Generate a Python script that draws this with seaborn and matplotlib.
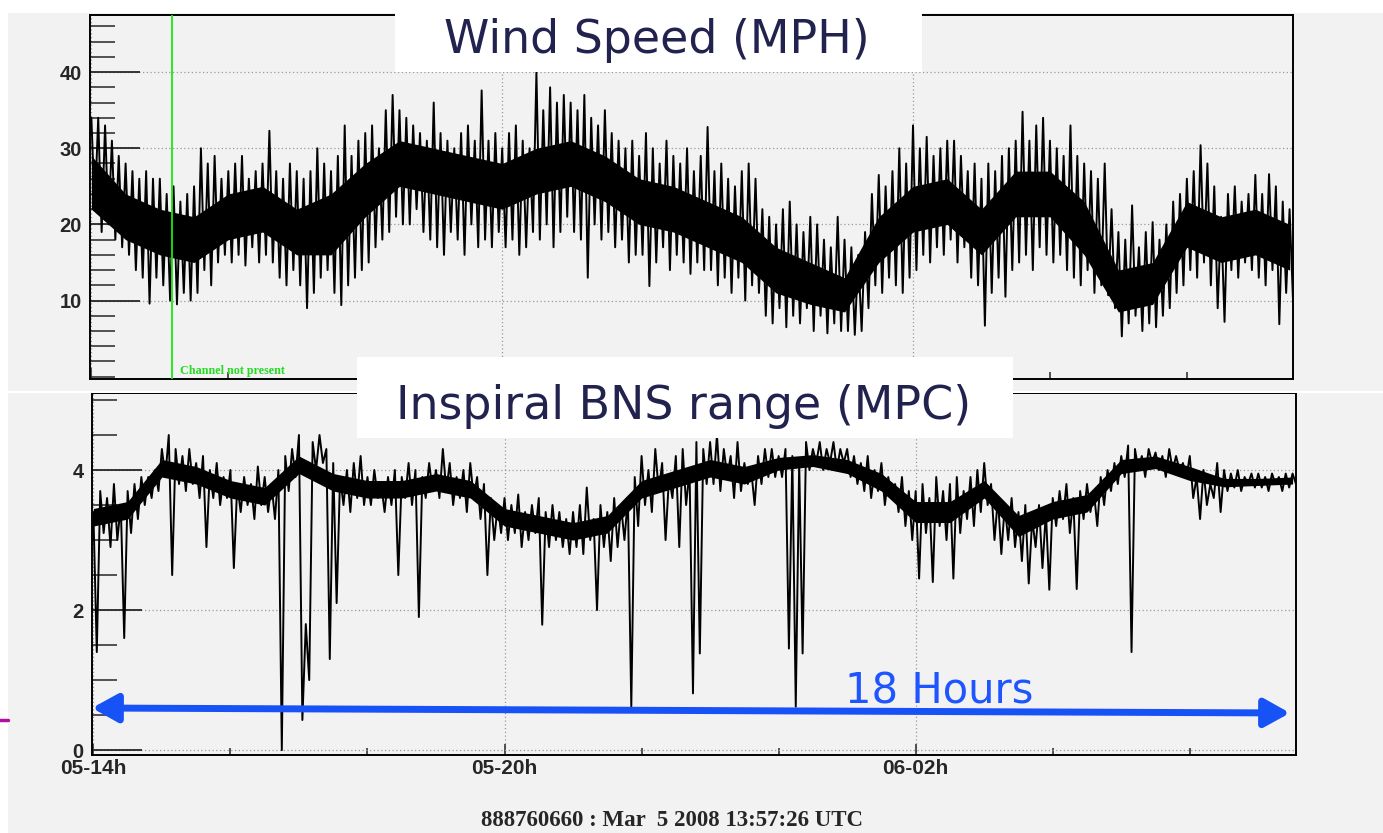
import numpy as np
import pandas as pd
import matplotlib
matplotlib.use("Agg")
import matplotlib.pyplot as plt
import seaborn as sns
from matplotlib.ticker import FixedLocator, MultipleLocator
from matplotlib.patches import Rectangle
from matplotlib.lines import Line2D

# --- data: upper / lower trace value every 0.1 h from 05-14h ---
wind_hi = [34, 34, 33, 31, 29, 28, 27, 26, 27, 26,
           26, 24, 25, 23, 24, 25, 30, 28, 29, 26,
           27, 28, 29, 26, 27, 28, 32.3, 27, 26, 28,
           27, 26, 27, 30, 28, 27, 29, 33, 29, 31,
           32, 33, 30, 35, 37, 35, 34, 33, 32, 31,
           36, 32, 31, 30, 32, 33, 31, 37.6, 31, 32,
           30, 32, 33, 31, 30, 40, 35, 38, 36, 37,
           36, 35, 37, 34, 33, 35, 32, 31, 30, 31,
           29, 32, 30, 28, 31, 29, 28, 30, 27, 29,
           32.8, 27, 28, 26, 25, 27, 28, 26, 22, 21,
           20, 22, 23, 20, 19, 21, 20, 18, 17, 21,
           18, 17, 16, 19, 24, 26.5, 25, 27, 30, 28,
           33, 30, 31.5, 29, 30, 31, 31, 29, 27, 28,
           26, 28, 27, 29, 30, 31, 34.8, 31, 33, 34,
           31, 30, 29, 33, 29, 28, 27, 26, 28, 22,
           19, 18, 22.5, 17, 19, 20.3, 18, 20, 23, 24,
           26, 27, 30.4, 28, 25, 21, 24, 25, 23, 24,
           26.5, 24, 26.6, 25, 23, 22]
wind_lo = [22, 19, 20, 18, 17, 16, 14, 13, 9.6, 13,
           12, 10, 9.5, 11, 10, 11, 14, 12, 15, 16,
           15, 16, 14.6, 17, 15, 16, 15, 13, 12, 14,
           12, 9, 11, 13, 14, 11, 9.4, 12, 13, 14,
           15, 17, 18, 19, 21, 20, 20, 22, 19, 18,
           17, 16, 19, 18, 16, 20, 17, 18, 17, 19,
           17, 18, 16, 17, 19, 18, 20, 17, 19, 21,
           19, 18, 13, 20, 18, 19, 17, 18, 15, 16,
           16, 11.9, 15, 17, 14, 16, 15, 13.5, 15, 14,
           14, 12, 13, 11, 13, 10, 12, 11, 8, 7,
           9, 6.5, 8, 7, 9, 6, 8, 5.7, 7, 6,
           6, 5.5, 6, 9, 12, 11, 13, 12, 11, 13,
           14, 16, 15, 17, 16, 18, 15, 17, 13, 12,
           6.7, 11, 13, 10.5, 14, 15, 16, 14, 17, 16,
           15, 16, 14, 13, 12, 14, 11, 12, 10.7, 9,
           5.3, 7, 8, 6, 7, 6.5, 8, 9, 11, 12,
           14, 13, 15, 12, 9, 7.2, 14, 13, 15, 14,
           13, 12, 14, 6.9, 11, 10]
# solid core of the wind trace, every 0.5 h
wind_core_hi = [29, 24, 22, 21, 24, 25, 22, 24, 28, 31, 30, 29,
                28, 30, 31, 29, 26, 25, 23, 21, 17, 15, 13, 21,
                25, 26, 22, 27, 27, 23, 14, 15, 23, 21, 22, 20]
wind_core_lo = [22, 18, 16, 15, 18, 19, 16, 16, 21, 25, 24, 23,
                22, 24, 25, 23, 20, 19, 17, 15, 11, 9.5, 8.5, 15,
                19, 20, 16, 21, 21, 16, 8.5, 9.5, 17, 15, 16, 14]

bns_hi = [3.4, 3.7, 3.6, 3.8, 3.5, 3.7, 3.8, 3.9, 3.9, 4.0,
          4.3, 4.5, 4.3, 4.2, 4.3, 4.1, 4.2, 4.0, 4.1, 3.9,
          4.0, 3.8, 3.9, 3.8, 4.05, 3.9, 3.8, 4.0, 4.2, 4.3,
          4.5, 1.8, 4.4, 4.5, 4.3, 4.1, 3.9, 4.0, 4.1, 4.2,
          3.9, 4.0, 3.8, 3.9, 4.0, 3.9, 4.1, 4.0, 3.9, 4.1,
          4.0, 4.3, 4.1, 3.9, 4.0, 4.1, 3.9, 3.8, 3.6, 3.5,
          3.6, 3.5, 3.65, 3.4, 3.5, 3.6, 3.4, 3.5, 3.4, 3.3,
          3.4, 3.5, 3.75, 3.3, 3.5, 3.4, 3.6, 3.5, 3.6, 3.9,
          4.2, 4.0, 4.3, 4.1, 3.9, 4.2, 4.3, 4.0, 4.4, 4.3,
          4.4, 4.5, 4.3, 4.2, 4.4, 4.1, 4.0, 4.2, 4.3, 4.3,
          4.2, 4.3, 4.2, 4.1, 4.4, 4.3, 4.4, 4.3, 4.4, 4.3,
          4.3, 4.2, 4.1, 4.2, 4.0, 4.1, 3.9, 3.8, 3.9, 3.7,
          3.7, 3.8, 3.6, 3.9, 3.7, 3.8, 3.9, 3.7, 3.9, 4.0,
          4.1, 3.8, 3.6, 3.5, 3.6, 3.4, 3.5, 3.3, 3.5, 3.4,
          3.6, 3.7, 3.8, 3.6, 3.7, 3.8, 3.7, 3.9, 4.0, 4.1,
          4.2, 4.35, 4.3, 4.2, 4.3, 4.25, 4.2, 4.3, 4.2, 4.1,
          4.2, 3.9, 4.0, 3.8, 4.1, 4.0, 3.95, 4.0, 3.9, 3.95,
          3.95, 3.9, 3.95, 3.9, 3.95, 3.95]
bns_lo = [1.4, 3.1, 2.9, 3.0, 1.6, 3.1, 3.3, 3.5, 3.6, 3.7,
          3.9, 2.5, 3.8, 3.7, 3.8, 3.6, 2.9, 3.6, 3.5, 3.6,
          2.6, 3.4, 3.5, 3.3, 3.5, 3.4, 3.3, 0.0, 3.7, 3.9,
          0.43, 1.0, 4.0, 4.1, 1.3, 2.1, 3.5, 3.4, 3.6, 3.5,
          3.5, 3.6, 3.4, 3.5, 2.5, 3.6, 3.5, 1.9, 3.6, 3.7,
          3.6, 3.7, 3.5, 3.6, 3.4, 3.6, 3.3, 2.5, 3.0, 3.1,
          3.0, 3.1, 2.9, 3.0, 3.1, 1.79, 2.9, 3.0, 2.9, 2.8,
          2.9, 2.8, 3.0, 2.0, 2.9, 2.7, 2.9, 3.0, 0.62, 3.2,
          3.5, 3.4, 3.7, 3.0, 3.6, 2.9, 3.5, 0.81, 1.38, 3.8,
          3.8, 3.7, 3.9, 3.6, 3.7, 3.8, 3.5, 3.8, 3.9, 3.9,
          3.9, 1.45, 0.62, 1.38, 4.0, 4.1, 4.0, 4.1, 4.0, 4.1,
          3.9, 3.8, 3.7, 3.6, 3.7, 3.5, 3.6, 3.4, 3.2, 3.0,
          2.45, 3.1, 2.4, 3.2, 3.0, 2.45, 3.1, 3.3, 3.2, 3.4,
          3.5, 3.0, 2.8, 3.0, 2.9, 2.7, 2.38, 2.9, 2.6, 2.29,
          3.2, 3.3, 3.1, 2.3, 3.3, 3.4, 3.2, 3.5, 3.7, 3.8,
          3.9, 1.4, 4.0, 3.9, 4.1, 4.0, 3.9, 4.0, 4.0, 3.9,
          3.6, 3.3, 3.5, 3.6, 3.4, 3.7, 3.75, 3.7, 3.8, 3.75,
          3.75, 3.7, 3.8, 3.7, 3.75, 3.8]
# solid core of the range trace, every 0.5 h
bns_core_hi = [3.45, 3.55, 4.15, 4.05, 3.85, 3.75, 4.2, 3.95, 3.85, 3.85, 3.95, 3.85,
               3.45, 3.35, 3.25, 3.35, 3.85, 4.0, 4.15, 4.05, 4.18, 4.22, 4.15, 3.95,
               3.55, 3.55, 3.85, 3.35, 3.55, 3.65, 4.15, 4.2, 4.05, 3.88, 3.88, 3.9]
bns_core_lo = [3.2, 3.3, 3.9, 3.8, 3.6, 3.5, 3.95, 3.7, 3.6, 3.6, 3.7, 3.6,
               3.2, 3.1, 3.0, 3.1, 3.6, 3.75, 3.9, 3.8, 4.0, 4.05, 3.95, 3.7,
               3.25, 3.25, 3.6, 3.05, 3.3, 3.4, 3.95, 4.02, 3.85, 3.76, 3.78, 3.8]

x_ticks = [0, 6, 12]
x_labels = ["05-14h", "05-20h", "06-02h"]
wind_yticks = [10, 20, 30, 40]
bns_yticks = [0, 2, 4]
channel_off_h = 1.18

W, H = 1383, 833
BG = "#f2f2f2"


def zigzag(hi, lo, step=0.1):
    # alternate upper and lower reading so the trace looks like the dense raw data
    t = np.arange(len(hi)) * step
    x = np.column_stack([t, t + step / 2]).ravel()
    y = np.column_stack([hi, lo]).ravel()
    return pd.DataFrame({"hours": x, "value": y})


def draw_trace(ax, hi, lo, core_hi, core_lo):
    tc = np.arange(len(core_hi)) * 0.5
    ax.fill_between(tc, core_lo, core_hi, color="black", linewidth=0, zorder=2)
    sns.lineplot(data=zigzag(hi, lo), x="hours", y="value", ax=ax,
                 color="black", linewidth=1.4, estimator=None, zorder=2)


def style_axis(ax, ylim, yticks, yminor):
    ax.set_facecolor(BG)
    ax.set_xlim(-0.02, 17.55)
    ax.set_ylim(*ylim)
    ax.yaxis.set_major_locator(FixedLocator(yticks))
    ax.yaxis.set_minor_locator(MultipleLocator(yminor))
    ax.xaxis.set_major_locator(FixedLocator(x_ticks))
    ax.xaxis.set_minor_locator(MultipleLocator(2))
    ax.tick_params(axis="y", which="major", direction="in", length=36, width=1.3,
                   labelsize=14.5, pad=6, left=True, right=False)
    ax.tick_params(axis="y", which="minor", direction="in", length=18, width=1.1,
                   left=True, right=False)
    ax.tick_params(axis="x", which="major", direction="in", length=8, width=1.1,
                   labelsize=15, pad=3, bottom=True, top=False)
    ax.tick_params(axis="x", which="minor", direction="in", length=5, width=1.1,
                   bottom=True, top=False)
    ax.grid(True, which="major", color="#9a9a9a", linestyle=(0, (1, 2)), linewidth=0.9)
    ax.set_axisbelow(True)
    for s in ax.spines.values():
        s.set_visible(True)
        s.set_color("black")
        s.set_linewidth(1.4)
    ax.set_xlabel("")
    ax.set_ylabel("")


sns.set_style("ticks")
plt.rcParams["font.family"] = ["Liberation Sans", "DejaVu Sans"]

fig = plt.figure(figsize=(W / 100, H / 100), dpi=100, facecolor=BG)
ax1 = fig.add_axes([90 / W, 1 - 379 / H, 1203 / W, 364 / H])
ax2 = fig.add_axes([92 / W, 1 - 755 / H, 1204 / W, 362 / H])

# --- wind speed ---
draw_trace(ax1, wind_hi, wind_lo, wind_core_hi, wind_core_lo)
ax1.axvline(channel_off_h, color="#19e619", linewidth=1.3, zorder=3)
style_axis(ax1, (-0.3, 47.5), wind_yticks, 2)
ax1.set_xticklabels([])
ax1.set_yticklabels([str(v) for v in wind_yticks], fontweight="bold")

# --- inspiral range ---
draw_trace(ax2, bns_hi, bns_lo, bns_core_hi, bns_core_lo)
style_axis(ax2, (-0.07, 5.1), bns_yticks, 0.5)
ax2.set_xticklabels(x_labels, fontweight="bold")
ax2.set_yticklabels([str(v) for v in bns_yticks], fontweight="bold")

# --- white frame pieces of the screenshot ---
for (x0, y0, w, h) in [(0, 0, W, 13), (0, 0, 8, H), (0, 391, W, 2)]:
    fig.add_artist(Rectangle((x0 / W, 1 - (y0 + h) / H), w / W, h / H,
                             transform=fig.transFigure, facecolor="white",
                             edgecolor="none", zorder=5))

# title boxes
fig.add_artist(Rectangle((395 / W, 1 - 72 / H), 527 / W, 72 / H, transform=fig.transFigure,
                         facecolor="white", edgecolor="none", zorder=6))
fig.add_artist(Rectangle((357 / W, 1 - 438 / H), 656 / W, 81 / H, transform=fig.transFigure,
                         facecolor="white", edgecolor="none", zorder=6))
fig.text(657 / W, 1 - 53 / H, "Wind Speed (MPH)", ha="center", va="baseline",
         fontsize=33, color="#22224e", family="DejaVu Sans", zorder=7)
fig.text(684 / W, 1 - 419 / H, "Inspiral BNS range (MPC)", ha="center", va="baseline",
         fontsize=33, color="#22224e", family="DejaVu Sans", zorder=7)

fig.text(180 / W, 1 - 374 / H, "Channel not present", ha="left", va="baseline",
         fontsize=8.7, color="#22dd22", family="Liberation Serif", fontweight="bold")

# 18 hours arrow
ax2.annotate("", xy=(1290, H - 713), xytext=(92, H - 708), xycoords="figure pixels",
             textcoords="figure pixels",
             arrowprops=dict(arrowstyle="<|-|>,head_length=0.45,head_width=0.25",
                             color="#1652f5", lw=5, mutation_scale=34,
                             shrinkA=0, shrinkB=0))
fig.text(939 / W, 1 - 704 / H, "18 Hours", ha="center", va="baseline",
         fontsize=30, color="#1f55ff", family="DejaVu Sans")

fig.add_artist(Line2D([0, 8 / W], [1 - 720 / H, 1 - 720 / H], transform=fig.transFigure,
                      color="#b0109f", linewidth=2.5, zorder=7))

fig.text(672 / W, 1 - 826 / H, "888760660 : Mar  5 2008 13:57:26 UTC", ha="center",
         va="baseline", fontsize=16.5, family="Liberation Serif", fontweight="bold")

fig.savefig("out.png", dpi=100, facecolor=BG)
